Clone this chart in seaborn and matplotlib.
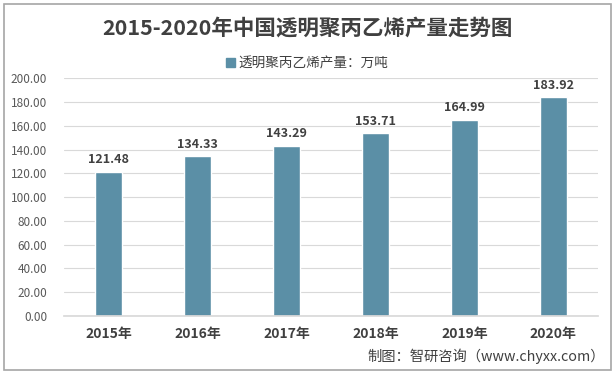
import matplotlib
matplotlib.use("Agg")
import matplotlib.pyplot as plt
import seaborn as sns
import pandas as pd
from matplotlib.patches import Rectangle, Patch

years = ["2015年", "2016年", "2017年", "2018年", "2019年", "2020年"]
values = [121.48, 134.33, 143.29, 153.71, 164.99, 183.92]
yticks = [0, 20, 40, 60, 80, 100, 120, 140, 160, 180, 200]
series_name = "透明聚丙乙烯产量：万吨"
title = "2015-2020年中国透明聚丙乙烯产量走势图"
source = "制图：智研咨询（www.chyxx.com）"

sns.set_theme(style="white")
plt.rcParams['font.family'] = ['Noto Sans CJK SC', 'DejaVu Sans']

df = pd.DataFrame({"year": years, "value": values})
color = "#5B8FA6"

fig = plt.figure(figsize=(6.15, 3.74), dpi=100)
ax = fig.add_axes([0.104, 0.155, 0.868, 0.636])
sns.barplot(data=df, x="year", y="value", color=color, width=0.30, ax=ax, saturation=1)

ax.set_ylim(0, 200)
ax.set_yticks(yticks)
ax.set_yticklabels([f"{v:.2f}" for v in yticks], fontsize=8.5, color="#595959")
ax.yaxis.grid(True, color="#D9D9D9", linewidth=0.8)
ax.set_axisbelow(True)
ax.set_xlabel("")
ax.set_ylabel("")
for s in ["top", "right", "left"]:
    ax.spines[s].set_visible(False)
ax.spines["bottom"].set_color("#D9D9D9")
ax.tick_params(axis="y", length=0, pad=12)
ax.tick_params(axis="x", length=0, pad=8)
for lbl in ax.get_xticklabels():
    lbl.set_fontweight("bold")
    lbl.set_fontsize(10)
    lbl.set_color("#404040")

for c in ax.containers:
    ax.bar_label(c, labels=[f"{v:.2f}" for v in values], padding=4,
                 fontsize=9, fontweight="bold", color="#404040")

fig.text(0.5, 0.925, title, ha="center", va="center", fontsize=15.5,
         fontweight="bold", color="#404040")

handles = [Patch(facecolor=color, edgecolor=color)]
fig.legend(handles, [series_name], loc="center", bbox_to_anchor=(0.5, 0.83),
           frameon=False, fontsize=9.8, handlelength=0.6, handleheight=0.6,
           handletextpad=0.3, labelcolor="#404040")

fig.text(0.984, 0.048, source, ha="right", va="center", fontsize=10.3, color="#404040")

fig.patches.append(Rectangle((0.006, 0.01), 0.988, 0.978, transform=fig.transFigure,
                             fill=False, edgecolor="#A6A6A6", linewidth=1.2))

fig.savefig("out.png", dpi=100)
